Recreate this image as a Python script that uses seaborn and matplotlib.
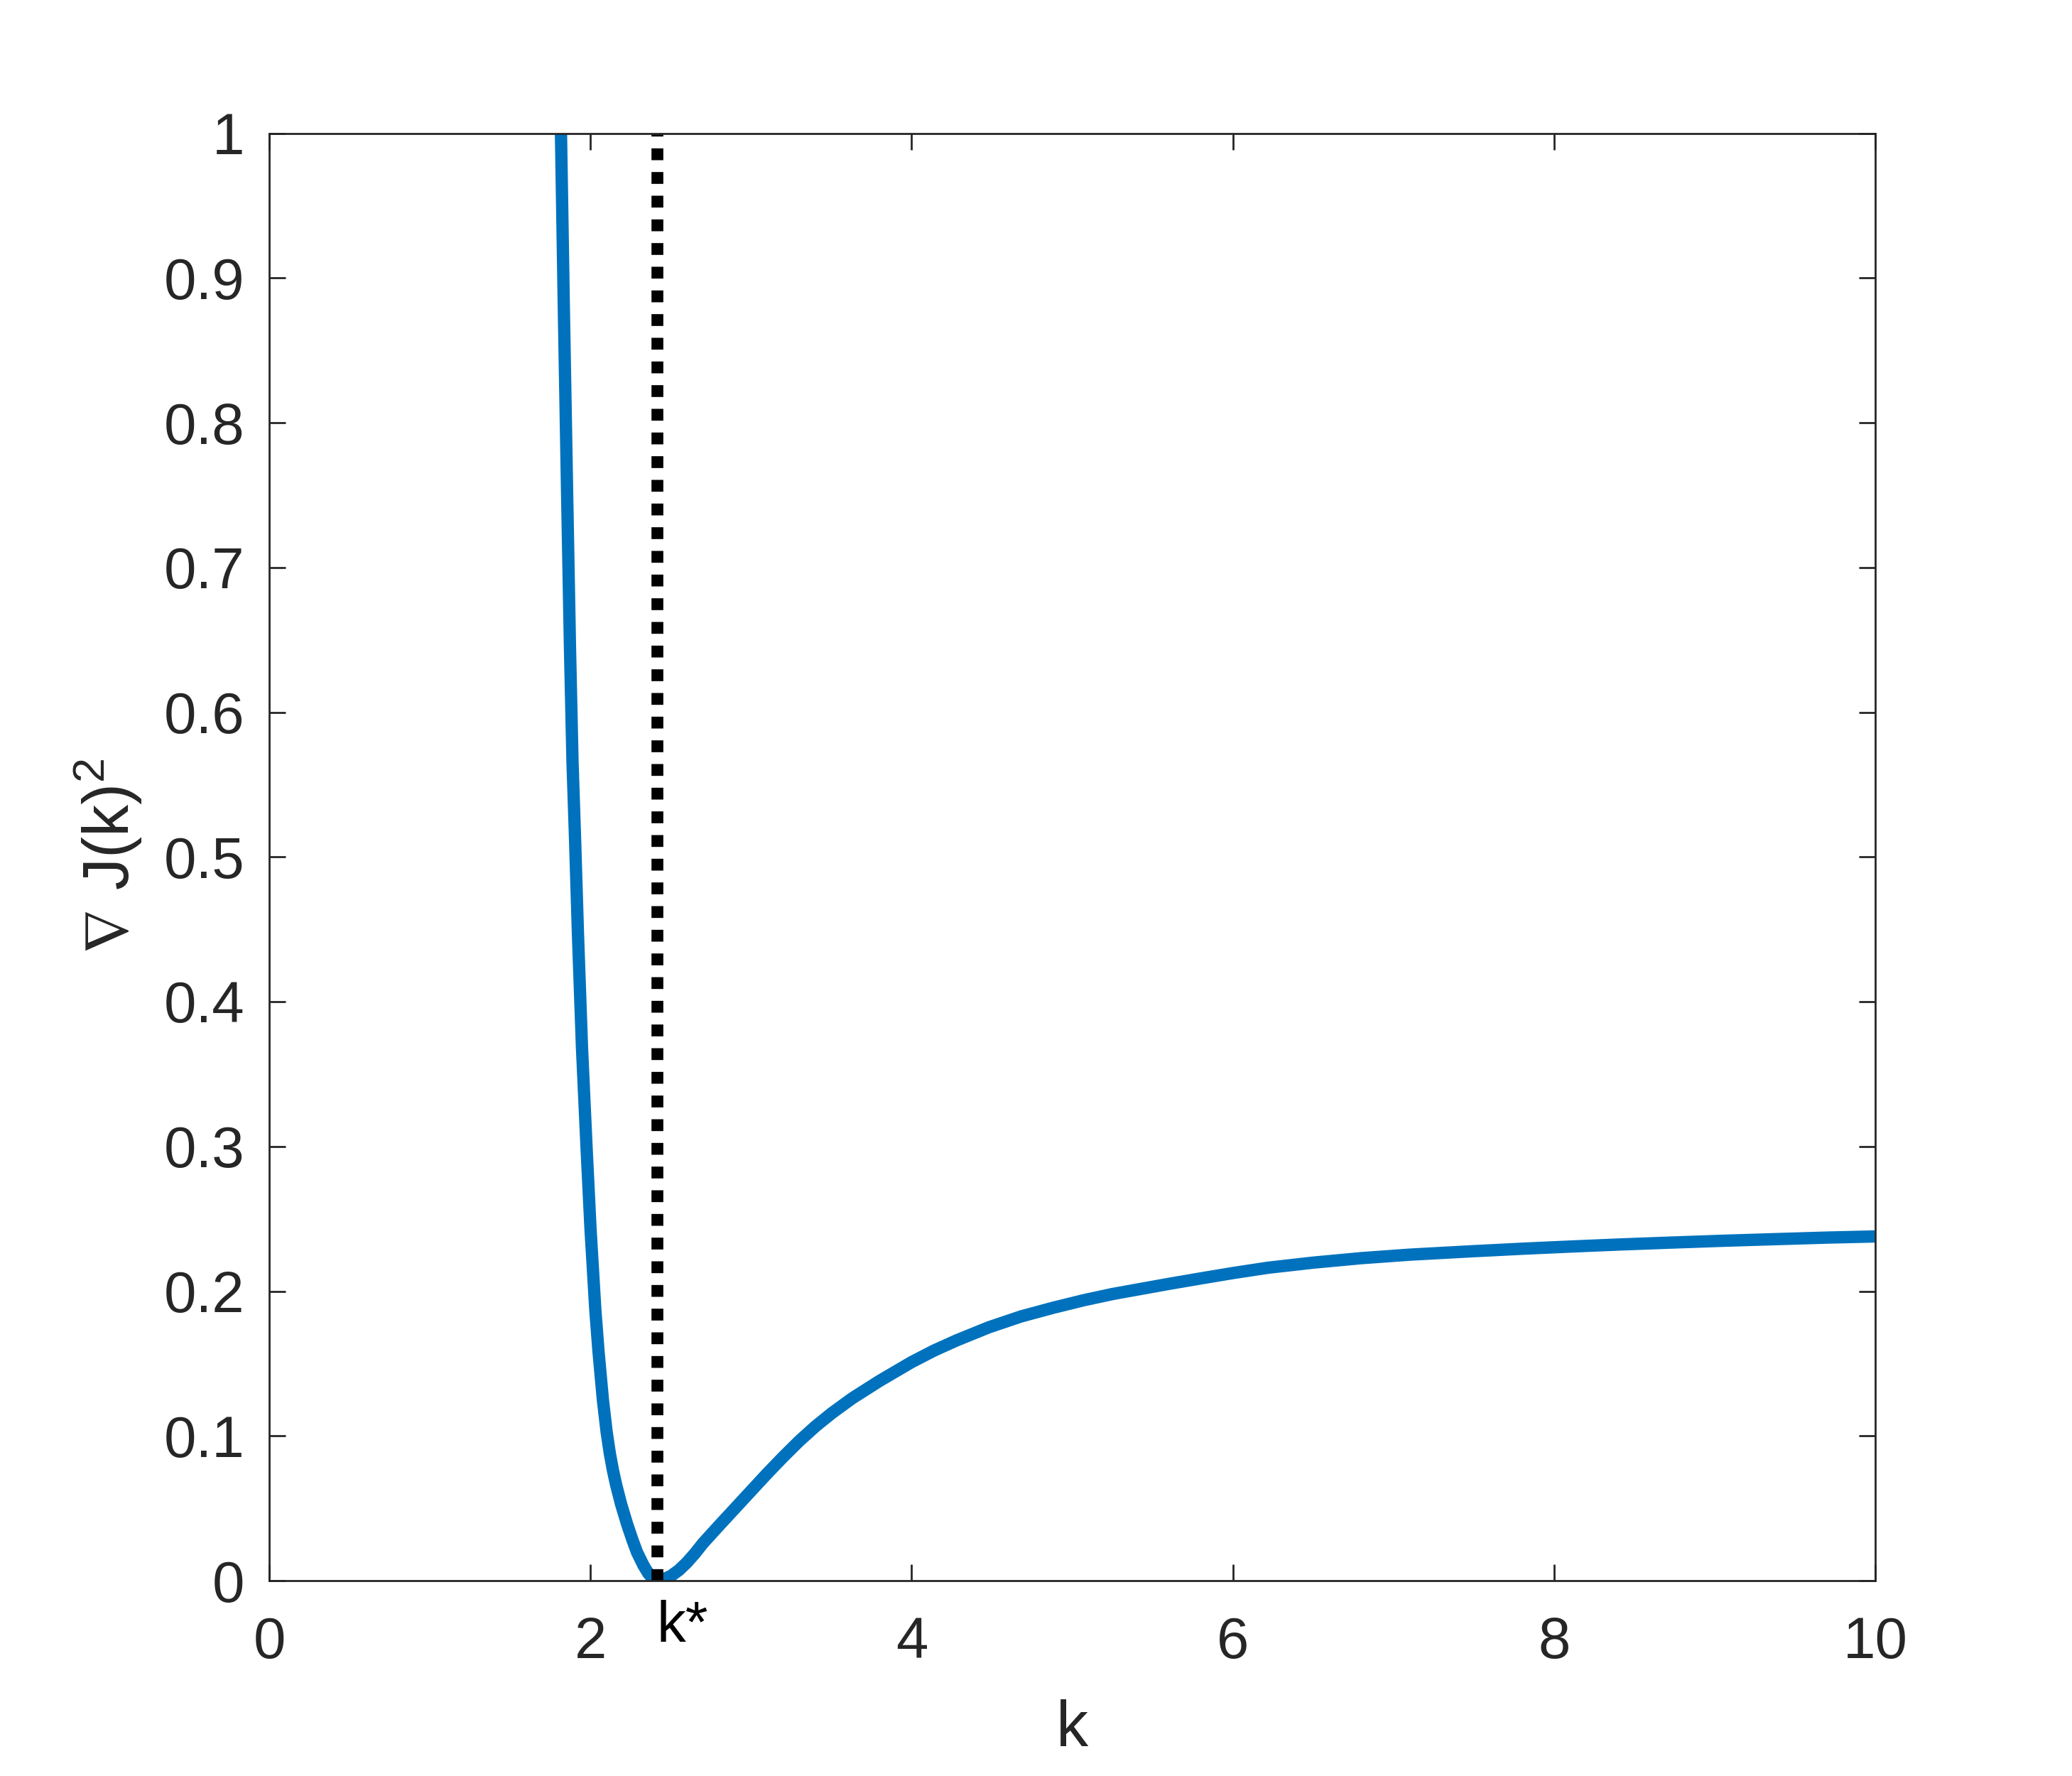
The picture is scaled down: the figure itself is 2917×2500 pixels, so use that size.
import numpy as np
import pandas as pd
import matplotlib
matplotlib.use("Agg")
import matplotlib.pyplot as plt
import seaborn as sns

# ---- data ----
k_values = [1.80, 1.816, 1.834, 1.854, 1.872, 1.888, 1.903, 1.922, 1.947, 1.975,
            2.000, 2.030, 2.05, 2.077, 2.10, 2.12, 2.14, 2.16, 2.19, 2.228,
            2.26, 2.29, 2.33, 2.36, 2.39, 2.414, 2.45, 2.50, 2.55, 2.60,
            2.65, 2.70, 2.80, 2.90, 3.00, 3.10, 3.20, 3.30, 3.40, 3.50,
            3.63, 3.80, 4.00, 4.14, 4.28, 4.48, 4.68, 4.88, 5.07, 5.25,
            5.40, 5.60, 5.80, 6.00, 6.22, 6.50, 6.80, 7.10, 7.48, 7.80,
            8.10, 8.40, 8.74, 9.05, 9.40, 9.70, 10.0]
grad_sq = [1.07, 1.0, 0.878, 0.753, 0.645, 0.565, 0.515, 0.446, 0.368, 0.300,
           0.243, 0.187, 0.158, 0.125, 0.103, 0.088, 0.076, 0.066, 0.053, 0.039,
           0.0285, 0.0195, 0.0105, 0.005, 0.0013, 0.0, 0.0007, 0.0032, 0.0072, 0.0125,
           0.0188, 0.0258, 0.038, 0.050, 0.062, 0.074, 0.0855, 0.0965, 0.1065, 0.1155,
           0.126, 0.138, 0.151, 0.159, 0.166, 0.175, 0.1825, 0.1885, 0.1937, 0.1980,
           0.2010, 0.2050, 0.2088, 0.2125, 0.2162, 0.2197, 0.2228, 0.2252, 0.2275, 0.2293,
           0.2308, 0.2322, 0.2336, 0.2348, 0.236, 0.237, 0.2378]
k_star = 2.414
x_ticks = [0, 2, 4, 6, 8, 10]
y_ticks = [0, 0.1, 0.2, 0.3, 0.4, 0.5, 0.6, 0.7, 0.8, 0.9, 1]
y_tick_labels = ["0", "0.1", "0.2", "0.3", "0.4", "0.5", "0.6", "0.7", "0.8", "0.9", "1"]

df = pd.DataFrame({"k": k_values, "g": grad_sq})
vline_df = pd.DataFrame({"k": [k_star, k_star], "g": [0.0, 1.0]})

sns.set_style("white")
plt.rcParams["font.family"] = ["Liberation Sans", "DejaVu Sans"]
plt.rcParams["mathtext.fontset"] = "custom"
plt.rcParams["mathtext.rm"] = "Liberation Sans"
plt.rcParams["mathtext.it"] = "Liberation Sans"
plt.rcParams["mathtext.fallback"] = "stixsans"

GRAY = "#262626"
fig = plt.figure(figsize=(2917 / 250, 2500 / 250), dpi=250)
fig.patch.set_facecolor("white")
ax = fig.add_axes([0.13, 0.11, 0.775, 0.815])

sns.lineplot(data=df, x="k", y="g", ax=ax, color="#0072BD", linewidth=5.0,
             sort=False, estimator=None, solid_capstyle="butt",
             solid_joinstyle="round")
sns.lineplot(data=vline_df, x="k", y="g", ax=ax, color="black", linewidth=4.8,
             sort=False, estimator=None, linestyle=(0, (1, 1)),
             dash_capstyle="butt")

ax.set_xlim(0, 10)
ax.set_ylim(0, 1)
ax.set_xticks(x_ticks)
ax.set_xticklabels([str(t) for t in x_ticks])
ax.set_yticks(y_ticks)
ax.set_yticklabels(y_tick_labels)

for sp in ax.spines.values():
    sp.set_visible(True)
    sp.set_color(GRAY)
    sp.set_linewidth(0.8)

ax.tick_params(axis="both", which="major", direction="in", length=6.5, width=0.8,
               color=GRAY, labelcolor=GRAY, labelsize=23.5,
               top=True, right=True, bottom=True, left=True)
ax.tick_params(axis="x", pad=14.5)
ax.tick_params(axis="y", pad=10)

ax.set_xlabel("k", fontsize=26, color=GRAY)
ax.set_ylabel(r"$\nabla$ J(k)$^2$", fontsize=26, color=GRAY)
ax.xaxis.set_label_coords(0.5, -0.082)
ax.yaxis.set_label_coords(-0.078, 0.5)

ax.text(k_star, -0.032, "k*", fontsize=23.5, color="black", ha="left", va="center",
        clip_on=False)

ax.grid(False)
fig.savefig("out.png", dpi=250, facecolor="white")
